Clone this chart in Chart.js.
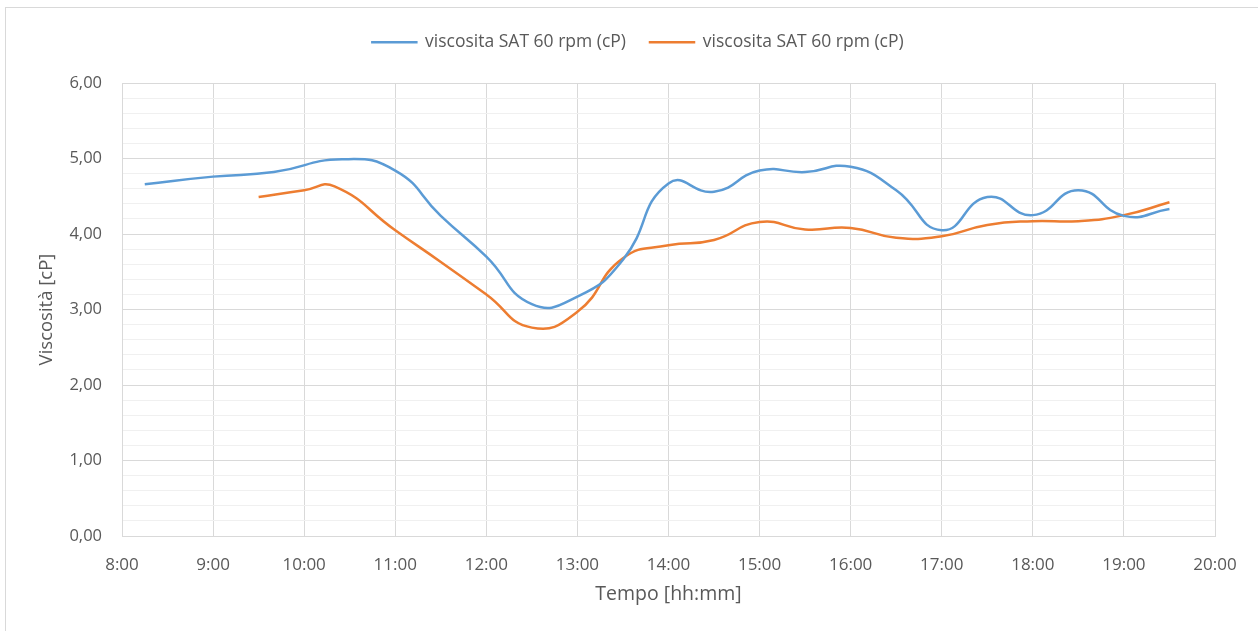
<!DOCTYPE html>
<html lang="it">
<head>
  <meta charset="UTF-8">
  <title>Viscosità SAT 60 rpm</title>
  <script src="https://cdn.jsdelivr.net/npm/chart.js"></script>
  <style>
    body {
      margin: 0;
      padding: 0;
      background: #fff;
      font-family: 'Open Sans', sans-serif;
    }
    .wrap {
      position: relative;
      width: 1258px;
      height: 631px;
    }
    /* thin frame of the original chart object */
    .frame {
      position: absolute;
      left: 5px;
      top: 7px;
      right: 0;
      bottom: 0;
      border-left: 1px solid #d9d9d9;
      border-top: 1px solid #d9d9d9;
    }
    #viscChart {
      position: absolute;
      left: 0;
      top: 0;
    }
  </style>
</head>
<body>

<div class="wrap">
  <div class="frame"></div>
  <canvas id="viscChart" width="1258" height="631"></canvas>
</div>

<script>
  // values (hh:mm, cP)
  var blueTimes  = ['8:15', '9:00', '9:40', '10:25', '11:00', '11:30', '12:00', '12:30', '13:00', '13:30', '14:00', '14:30', '15:00', '15:30', '16:00', '16:30', '17:00', '17:30', '18:00', '18:30', '19:00', '19:30'];
  var blueValues = [4.66, 4.76, 4.82, 4.99, 4.84, 4.24, 3.70, 3.07, 3.17, 3.66, 4.67, 4.56, 4.84, 4.82, 4.89, 4.58, 4.05, 4.49, 4.25, 4.58, 4.24, 4.33];

  var orangeTimes  = ['9:30', '10:00', '10:20', '11:00', '11:30', '12:00', '12:30', '13:00', '13:30', '14:00', '14:30', '15:00', '15:30', '16:00', '16:30', '17:00', '17:30', '18:00', '18:30', '19:00', '19:30'];
  var orangeValues = [4.49, 4.58, 4.63, 4.05, 3.63, 3.20, 2.76, 2.97, 3.68, 3.85, 3.92, 4.16, 4.06, 4.08, 3.95, 3.97, 4.12, 4.17, 4.17, 4.25, 4.42];

  var seriesLabel = 'viscosita SAT 60 rpm (cP)';

  function toHours(t) {
    var p = t.split(':');
    return parseInt(p[0], 10) + parseInt(p[1], 10) / 60;
  }

  function toPoints(times, values) {
    return times.map(function(t, i) {
      return { x: toHours(t), y: values[i] };
    });
  }

  var textColor = '#595959';

  var ctx = document.getElementById('viscChart').getContext('2d');
  var chart = new Chart(ctx, {
    type: 'line',
    data: {
      datasets: [{
        label: seriesLabel,
        data: toPoints(blueTimes, blueValues),
        borderColor: '#5b9bd5',
        backgroundColor: '#5b9bd5',
        borderWidth: 2.5,
        pointRadius: 0,
        tension: 0.5,
        fill: false
      }, {
        label: seriesLabel,
        data: toPoints(orangeTimes, orangeValues),
        borderColor: '#ed7d31',
        backgroundColor: '#ed7d31',
        borderWidth: 2.5,
        pointRadius: 0,
        tension: 0.5,
        fill: false
      }]
    },
    options: {
      responsive: false,
      animation: false,
      layout: {
        padding: { left: 18, top: 8, right: 0, bottom: 0 }
      },
      plugins: {
        tooltip: { enabled: false },
        legend: {
          position: 'top',
          labels: {
            boxWidth: 44,
            boxHeight: 0.1,
            padding: 24,
            color: textColor,
            font: { family: 'Open Sans', size: 17.5 }
          }
        }
      },
      scales: {
        x: {
          type: 'linear',
          min: 8,
          max: 20,
          afterFit: function(scale) {
            scale.height = 95;
            scale.paddingRight = 43;
          },
          ticks: {
            stepSize: 1,
            padding: 19,
            color: textColor,
            font: { family: 'Open Sans', size: 17 },
            maxRotation: 0,
            callback: function(v) { return Math.round(v) + ':00'; }
          },
          grid: {
            color: '#d9d9d9',
            drawTicks: false
          },
          border: { color: '#d9d9d9' },
          title: {
            display: true,
            text: 'Tempo [hh:mm]',
            color: textColor,
            font: { family: 'Open Sans', size: 19.5 },
            padding: { top: 0, bottom: 25 }
          }
        },
        // empty spacer between the legend and the plot area
        gap: {
          type: 'linear',
          position: 'top',
          ticks: { display: false },
          grid: { display: false, drawTicks: false },
          border: { display: false },
          afterFit: function(scale) {
            scale.height = 22;
          }
        },
        y: {
          min: 0,
          max: 6,
          afterFit: function(scale) {
            scale.width = 104;
            scale.paddingTop = 83;
          },
          ticks: {
            stepSize: 0.2,
            autoSkip: false,
            padding: 20,
            color: textColor,
            font: { family: 'Open Sans', size: 16.5 },
            callback: function(v) {
              if (Math.abs(v - Math.round(v)) < 1e-6) {
                return Math.round(v).toFixed(2).replace('.', ',');
              }
              return '';
            }
          },
          grid: {
            drawTicks: false,
            color: function(c) {
              var v = c.tick ? c.tick.value : 0;
              return Math.abs(v - Math.round(v)) < 1e-6 ? '#d9d9d9' : '#f0f0f0';
            }
          },
          border: { color: '#d9d9d9' },
          title: {
            display: true,
            text: 'Viscosità [cP]',
            color: textColor,
            font: { family: 'Open Sans', size: 18.5 },
            padding: { top: 18, bottom: 0 }
          }
        }
      }
    }
  });
</script>

</body>
</html>
